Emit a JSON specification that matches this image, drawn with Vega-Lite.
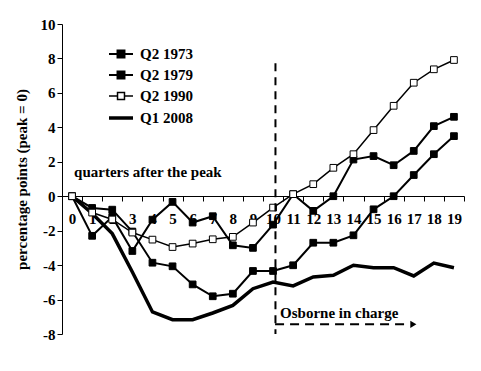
{
  "$schema": "https://vega.github.io/schema/vega-lite/v6.json",
  "width": 402,
  "height": 310,
  "autosize": {"type": "none"},
  "padding": {"left": 62, "top": 24, "right": 17, "bottom": 37},
  "background": "white",
  "config": {
    "view": {"stroke": null},
    "font": "Liberation Serif",
    "axis": {
      "domainColor": "black", "tickColor": "black", "labelColor": "black", "titleColor": "black",
      "labelFont": "Liberation Serif", "titleFont": "Liberation Serif",
      "labelFontWeight": "bold", "titleFontWeight": "bold", "labelOverlap": false,
      "grid": false, "domainWidth": 1, "tickWidth": 1
    }
  },
  "datasets": {
    "series": [
      {"q": 0, "v": 0, "s": "Q2 1973"}, {"q": 1, "v": -2.3, "s": "Q2 1973"}, {"q": 2, "v": -1.2, "s": "Q2 1973"}, {"q": 3, "v": -3.18, "s": "Q2 1973"}, {"q": 4, "v": -1.36, "s": "Q2 1973"},
      {"q": 5, "v": -0.33, "s": "Q2 1973"}, {"q": 6, "v": -1.53, "s": "Q2 1973"}, {"q": 7, "v": -1.16, "s": "Q2 1973"}, {"q": 8, "v": -2.85, "s": "Q2 1973"}, {"q": 9, "v": -3.0, "s": "Q2 1973"},
      {"q": 10, "v": -1.65, "s": "Q2 1973"}, {"q": 11, "v": 0.12, "s": "Q2 1973"}, {"q": 12, "v": -0.85, "s": "Q2 1973"}, {"q": 13, "v": 0.0, "s": "Q2 1973"}, {"q": 14, "v": 2.13, "s": "Q2 1973"},
      {"q": 15, "v": 2.33, "s": "Q2 1973"}, {"q": 16, "v": 1.8, "s": "Q2 1973"}, {"q": 17, "v": 2.63, "s": "Q2 1973"}, {"q": 18, "v": 4.07, "s": "Q2 1973"}, {"q": 19, "v": 4.61, "s": "Q2 1973"},
      {"q": 0, "v": 0, "s": "Q2 1979"}, {"q": 1, "v": -0.68, "s": "Q2 1979"}, {"q": 2, "v": -0.78, "s": "Q2 1979"}, {"q": 3, "v": -2.05, "s": "Q2 1979"}, {"q": 4, "v": -3.86, "s": "Q2 1979"},
      {"q": 5, "v": -4.07, "s": "Q2 1979"}, {"q": 6, "v": -5.12, "s": "Q2 1979"}, {"q": 7, "v": -5.81, "s": "Q2 1979"}, {"q": 8, "v": -5.66, "s": "Q2 1979"}, {"q": 9, "v": -4.34, "s": "Q2 1979"},
      {"q": 10, "v": -4.34, "s": "Q2 1979"}, {"q": 11, "v": -4.01, "s": "Q2 1979"}, {"q": 12, "v": -2.7, "s": "Q2 1979"}, {"q": 13, "v": -2.7, "s": "Q2 1979"}, {"q": 14, "v": -2.27, "s": "Q2 1979"},
      {"q": 15, "v": -0.76, "s": "Q2 1979"}, {"q": 16, "v": 0.0, "s": "Q2 1979"}, {"q": 17, "v": 1.23, "s": "Q2 1979"}, {"q": 18, "v": 2.44, "s": "Q2 1979"}, {"q": 19, "v": 3.49, "s": "Q2 1979"},
      {"q": 0, "v": 0, "s": "Q2 1990"}, {"q": 1, "v": -0.95, "s": "Q2 1990"}, {"q": 2, "v": -1.35, "s": "Q2 1990"}, {"q": 3, "v": -2.11, "s": "Q2 1990"}, {"q": 4, "v": -2.52, "s": "Q2 1990"},
      {"q": 5, "v": -2.95, "s": "Q2 1990"}, {"q": 6, "v": -2.75, "s": "Q2 1990"}, {"q": 7, "v": -2.5, "s": "Q2 1990"}, {"q": 8, "v": -2.36, "s": "Q2 1990"}, {"q": 9, "v": -1.53, "s": "Q2 1990"},
      {"q": 10, "v": -0.66, "s": "Q2 1990"}, {"q": 11, "v": 0.12, "s": "Q2 1990"}, {"q": 12, "v": 0.7, "s": "Q2 1990"}, {"q": 13, "v": 1.65, "s": "Q2 1990"}, {"q": 14, "v": 2.44, "s": "Q2 1990"},
      {"q": 15, "v": 3.84, "s": "Q2 1990"}, {"q": 16, "v": 5.25, "s": "Q2 1990"}, {"q": 17, "v": 6.59, "s": "Q2 1990"}, {"q": 18, "v": 7.37, "s": "Q2 1990"}, {"q": 19, "v": 7.91, "s": "Q2 1990"},
      {"q": 0, "v": 0, "s": "Q1 2008"}, {"q": 1, "v": -1.0, "s": "Q1 2008"}, {"q": 2, "v": -2.17, "s": "Q1 2008"}, {"q": 3, "v": -4.4, "s": "Q1 2008"}, {"q": 4, "v": -6.72, "s": "Q1 2008"},
      {"q": 5, "v": -7.17, "s": "Q1 2008"}, {"q": 6, "v": -7.17, "s": "Q1 2008"}, {"q": 7, "v": -6.78, "s": "Q1 2008"}, {"q": 8, "v": -6.34, "s": "Q1 2008"}, {"q": 9, "v": -5.37, "s": "Q1 2008"},
      {"q": 10, "v": -4.98, "s": "Q1 2008"}, {"q": 11, "v": -5.21, "s": "Q1 2008"}, {"q": 12, "v": -4.69, "s": "Q1 2008"}, {"q": 13, "v": -4.59, "s": "Q1 2008"}, {"q": 14, "v": -4.01, "s": "Q1 2008"},
      {"q": 15, "v": -4.15, "s": "Q1 2008"}, {"q": 16, "v": -4.15, "s": "Q1 2008"}, {"q": 17, "v": -4.63, "s": "Q1 2008"}, {"q": 18, "v": -3.88, "s": "Q1 2008"}, {"q": 19, "v": -4.15, "s": "Q1 2008"}
    ],
    "vline": [{"q": 10.12, "v": 7.72, "v2": -8}],
    "arrow": [{"q": 10.1, "q2": 16.8, "v": -7.44, "tip": 16.98}],
    "notes": [
      {"q": 0.1, "v": 1.1, "label": "quarters after the peak"},
      {"q": 10.35, "v": -7.05, "label": "Osborne in charge"}
    ]
  },
  "layer": [
    {
      "data": {"name": "series"},
      "transform": [{"filter": "datum.q > 100"}],
      "mark": {"type": "point", "filled": true, "stroke": "black", "opacity": 1},
      "encoding": {
        "x": {"field": "q", "type": "quantitative", "scale": {"domain": [-0.5, 19.5], "nice": false, "zero": false},
          "axis": {"title": null, "values": [-0.5, 0.5, 1.5, 2.5, 3.5, 4.5, 5.5, 6.5, 7.5, 8.5, 9.5, 10.5, 11.5, 12.5, 13.5, 14.5, 15.5, 16.5, 17.5, 18.5, 19.5],
            "tickCount": 40,
            "labelExpr": "datum.value < 19 ? format(datum.value + 0.5, 'd') : ''",
            "labelOffset": 10.05, "offset": -138, "tickSize": 5, "labelPadding": 10, "labelFontSize": 15,
            "labelFlush": false, "labelOverlap": false, "labelBound": false}},
        "y": {"field": "v", "type": "quantitative", "scale": {"domain": [-8, 10], "nice": false, "zero": false},
          "axis": {"title": "percentage points (peak = 0)", "values": [-8, -6, -4, -2, 0, 2, 4, 6, 8, 10],
            "tickCount": 20,
            "labelExpr": "datum.value < 0 ? '-' + format(-datum.value, 'd') : format(datum.value, 'd')",
            "labelOverlap": false, "labelFlush": false, "labelBound": false,
            "tickSize": 5, "labelPadding": 2, "labelFontSize": 15, "titleFontSize": 15, "titlePadding": 11}},
        "fill": {"field": "s", "type": "nominal", "title": null,
          "scale": {"domain": ["Q2 1973", "Q2 1979", "Q2 1990", "Q1 2008"], "range": ["black", "black", "white", "black"]},
          "legend": {"orient": "none", "legendX": 45, "legendY": 17, "padding": 0, "symbolSize": 576,
            "symbolStrokeColor": "black", "labelFont": "Liberation Serif", "labelFontSize": 15, "labelFontWeight": "bold",
            "labelColor": "black", "rowPadding": -1, "labelOffset": 5}},
        "shape": {"field": "s", "type": "nominal", "title": null,
          "scale": {"domain": ["Q2 1973", "Q2 1979", "Q2 1990", "Q1 2008"],
            "range": ["M-1,0H-0.29M0.29,0H1M-0.29,-0.29H0.29V0.29H-0.29Z", "M-1,0H-0.29M0.29,0H1M-0.29,-0.29H0.29V0.29H-0.29Z", "M-1,0H-0.29M0.29,0H1M-0.29,-0.29H0.29V0.29H-0.29Z", "M-1,0H1"]}},
        "strokeWidth": {"field": "s", "type": "nominal", "title": null,
          "scale": {"type": "ordinal", "domain": ["Q2 1973", "Q2 1979", "Q2 1990", "Q1 2008"], "range": [2, 2, 1.5, 3.5]}}
      }
    },
    {
      "data": {"name": "series"},
      "transform": [{"filter": "datum.s === 'Q1 2008'"}],
      "mark": {"type": "line", "color": "black", "strokeWidth": 3.5},
      "encoding": {"x": {"field": "q", "type": "quantitative"}, "y": {"field": "v", "type": "quantitative"}}
    },
    {
      "data": {"name": "series"},
      "transform": [{"filter": "datum.s === 'Q2 1973' || datum.s === 'Q2 1979'"}],
      "mark": {"type": "line", "color": "black", "strokeWidth": 2},
      "encoding": {"x": {"field": "q", "type": "quantitative"}, "y": {"field": "v", "type": "quantitative"}, "detail": {"field": "s"}}
    },
    {
      "data": {"name": "series"},
      "transform": [{"filter": "datum.s === 'Q2 1973' || datum.s === 'Q2 1979'"}],
      "mark": {"type": "point", "shape": "square", "size": 45, "filled": true, "fill": "black", "stroke": "black", "strokeWidth": 1, "opacity": 1},
      "encoding": {"x": {"field": "q", "type": "quantitative"}, "y": {"field": "v", "type": "quantitative"}}
    },
    {
      "data": {"name": "series"},
      "transform": [{"filter": "datum.s === 'Q2 1990'"}],
      "mark": {"type": "line", "color": "black", "strokeWidth": 1.5},
      "encoding": {"x": {"field": "q", "type": "quantitative"}, "y": {"field": "v", "type": "quantitative"}}
    },
    {
      "data": {"name": "series"},
      "transform": [{"filter": "datum.s === 'Q2 1990'"}],
      "mark": {"type": "point", "shape": "square", "size": 45, "filled": true, "fill": "white", "stroke": "black", "strokeWidth": 1, "opacity": 1},
      "encoding": {"x": {"field": "q", "type": "quantitative"}, "y": {"field": "v", "type": "quantitative"}}
    },
    {
      "data": {"name": "vline"},
      "mark": {"type": "rule", "color": "black", "strokeWidth": 2, "strokeDash": [8, 6]},
      "encoding": {"x": {"field": "q", "type": "quantitative"}, "y": {"field": "v", "type": "quantitative"}, "y2": {"field": "v2"}}
    },
    {
      "data": {"name": "arrow"},
      "mark": {"type": "rule", "color": "black", "strokeWidth": 2, "strokeDash": [9, 6]},
      "encoding": {"x": {"field": "q", "type": "quantitative"}, "x2": {"field": "q2"}, "y": {"field": "v", "type": "quantitative"}}
    },
    {
      "data": {"name": "arrow"},
      "mark": {"type": "point", "shape": "triangle-right", "size": 50, "filled": true, "color": "black", "opacity": 1},
      "encoding": {"x": {"field": "tip", "type": "quantitative"}, "y": {"field": "v", "type": "quantitative"}}
    },
    {
      "data": {"name": "notes"},
      "mark": {"type": "text", "align": "left", "baseline": "alphabetic", "font": "Liberation Serif", "fontSize": 15, "fontWeight": "bold", "color": "black"},
      "encoding": {"x": {"field": "q", "type": "quantitative"}, "y": {"field": "v", "type": "quantitative"}, "text": {"field": "label"}}
    }
  ]
}
